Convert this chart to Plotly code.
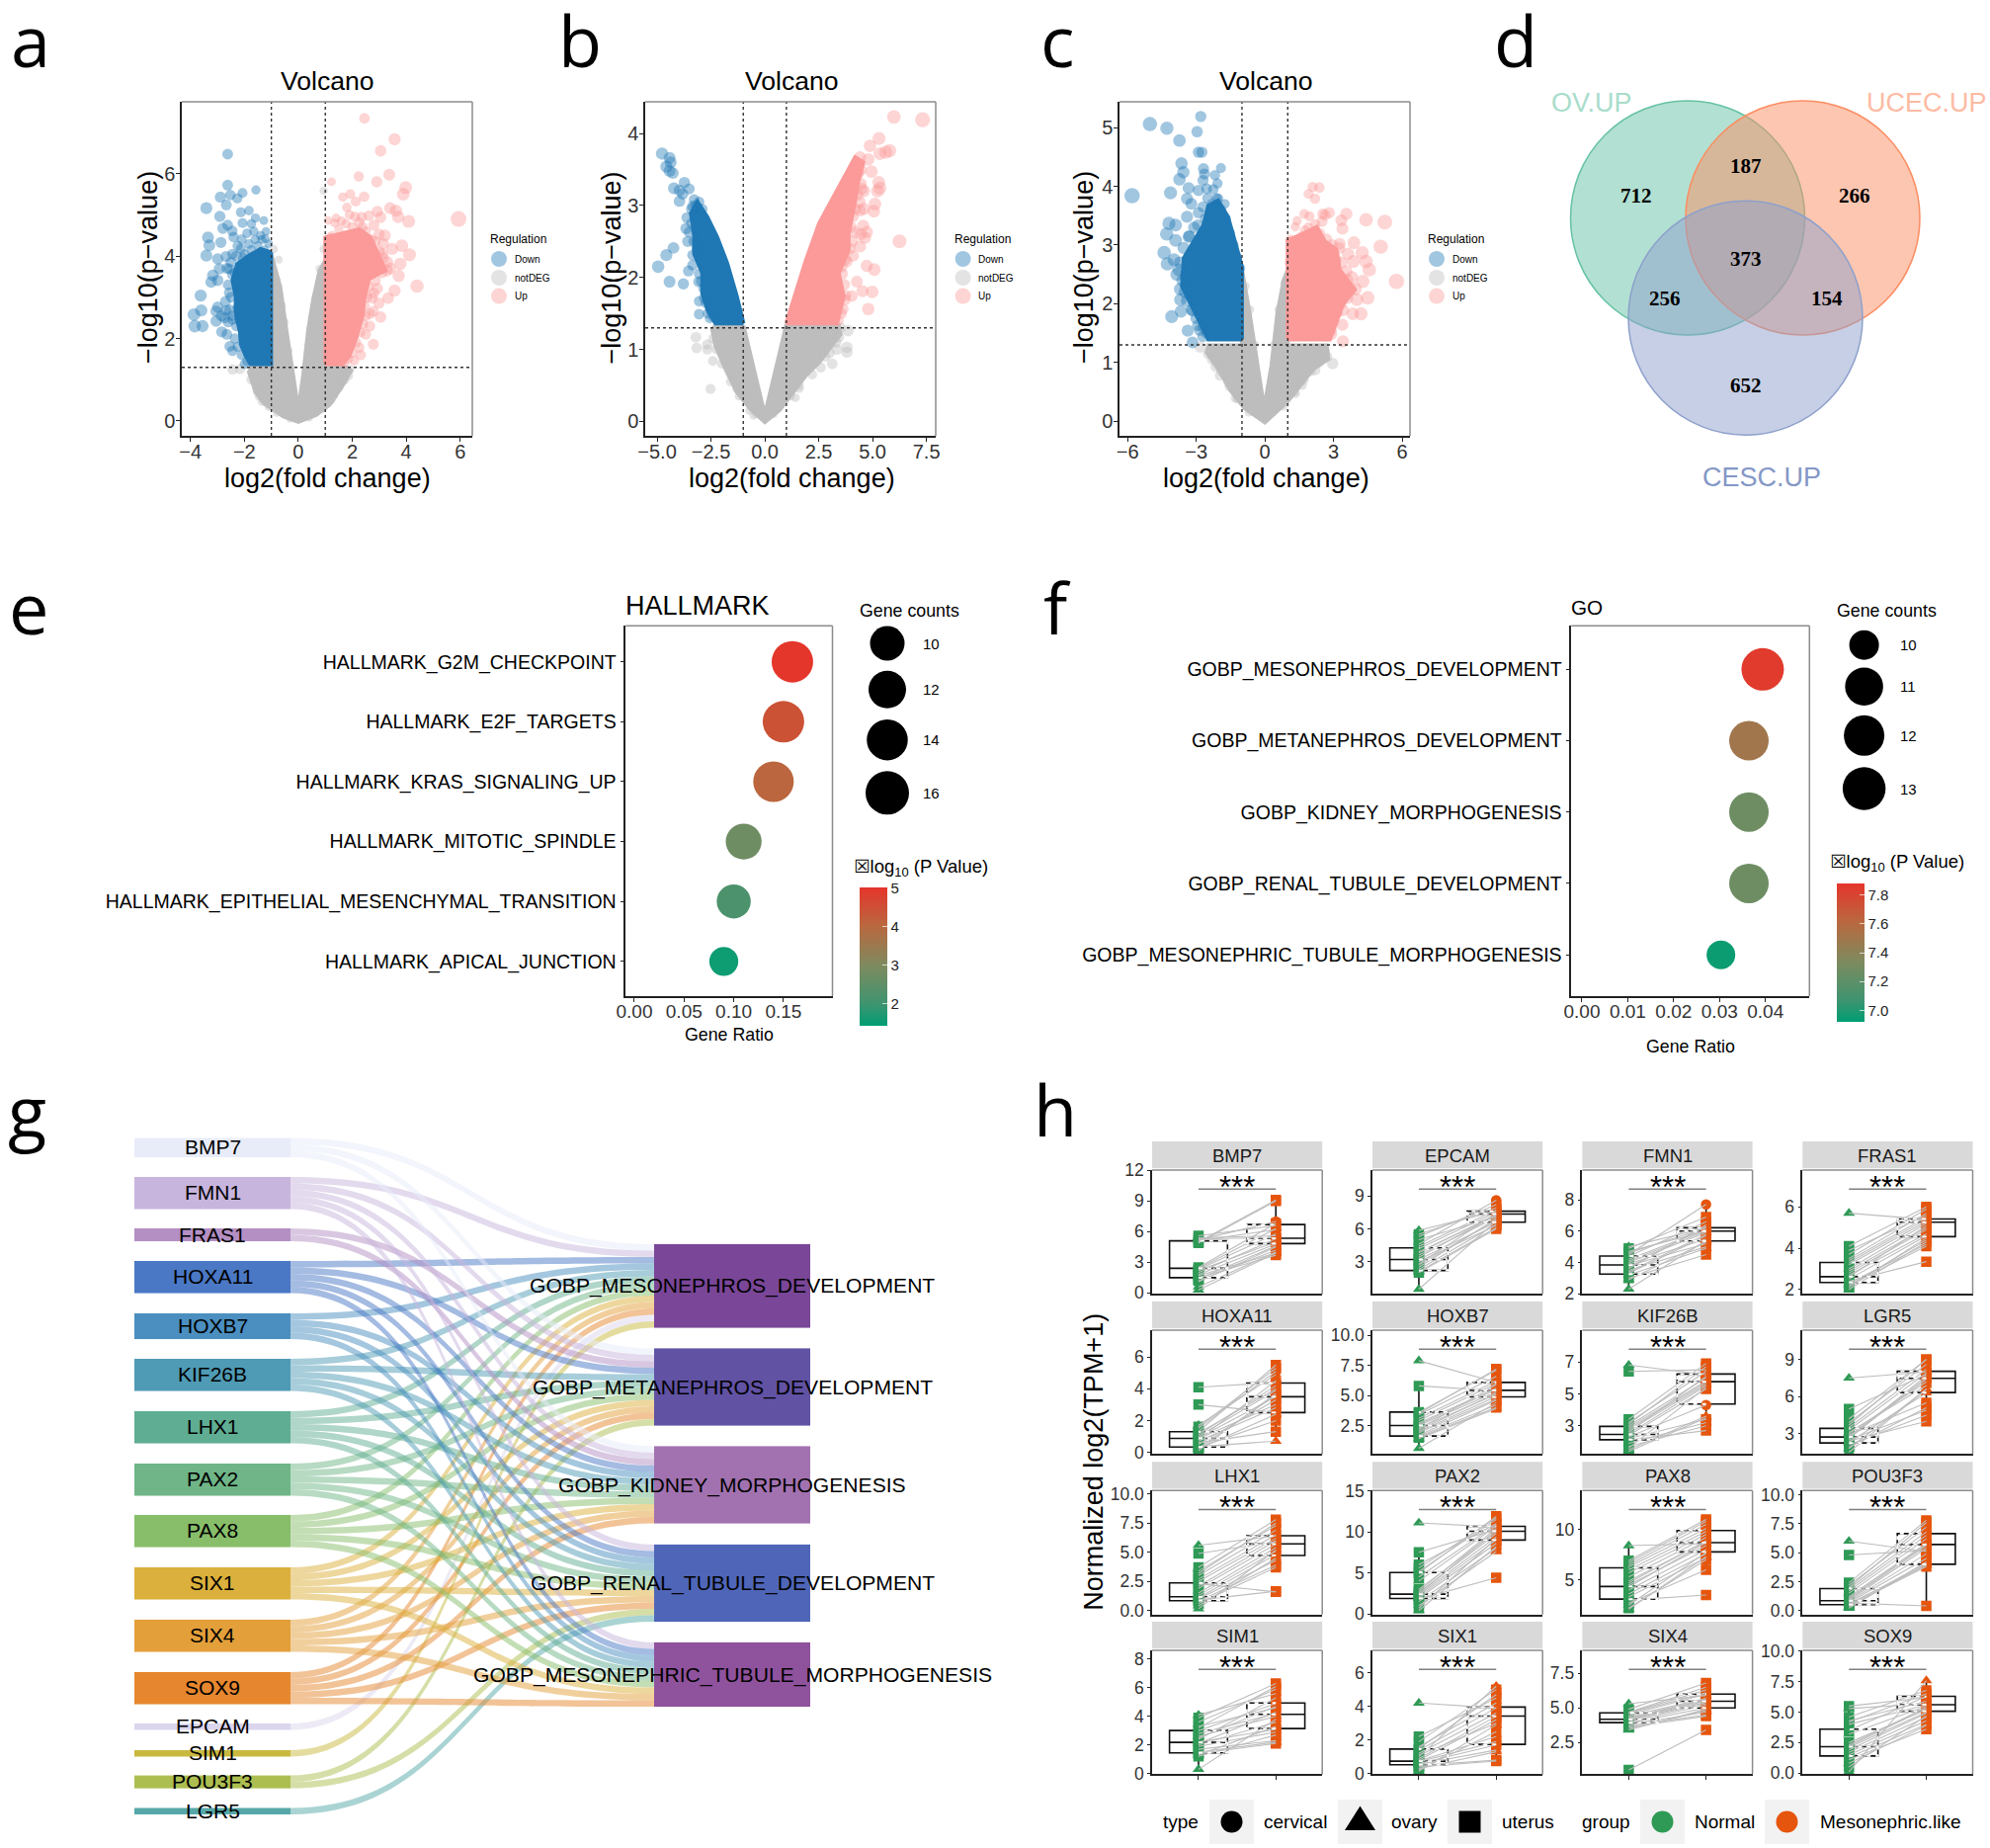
import plotly.graph_objects as go

W, H = 2014, 1870

# ---------------------------------------------------------------- panel a data
# The solid central masses of the volcano plots are read as outlines (*_MASS);
# the points around and away from them are read one by one.
A_DOWN = [(-2.62,6.47),(-2.62,5.72),(-1.57,5.60),(-2.07,5.53),(-2.89,5.43),(-2.52,5.48),(-2.26,5.40),(-2.67,5.24),(-3.41,5.16),(-2.13,5.06),(-1.83,5.10),(-2.91,4.96),(-1.59,4.92),(-1.28,4.86),(-1.74,4.78),(-2.07,4.80),(-2.80,4.67),(-2.62,4.75),(-2.45,4.61),(-2.40,4.46),(-3.35,4.45),(-3.30,4.26),(-2.87,4.33),(-1.83,4.29),(-1.22,4.42),(-2.13,4.17),(-3.41,4.01),(-2.99,3.93),(-2.68,3.99),(-2.44,4.05),(-2.93,3.69),(-2.56,3.69),(-3.17,3.53),(-2.99,3.41),(-3.23,3.37),(-3.62,3.04),(-2.56,3.11),(-3.60,2.68),(-3.87,2.58),(-2.99,2.76),(-3.05,2.66),(-2.68,2.68),(-3.05,2.42),(-2.74,2.50),(-2.44,2.46),(-3.84,2.30),(-3.55,2.30),(-2.84,2.16),(-2.65,2.10),(-2.54,1.81),(-2.44,1.70),(-1.99,1.38),
 (-1.2,4.6),(-1.4,4.5),(-1.6,4.4),(-1.9,4.55),(-2.1,4.4),(-2.25,4.25),(-1.5,4.25),(-1.25,4.15),(-1.1,4.3),(-1.75,4.15),(-2.0,4.05),(-2.3,4.0),(-2.5,3.85),(-2.65,3.7),(-2.45,3.55),(-2.6,3.3),(-2.5,3.0),(-2.7,2.9),(-2.55,2.7),(-2.45,2.55),(-2.85,2.55),(-2.6,2.4),(-2.3,2.3),(-2.35,2.0),(-2.25,1.8),(-2.1,1.6),(-1.9,1.45),(-2.2,3.3),(-2.35,3.6),(-2.05,3.95),(-2.25,2.75),(-2.2,2.45),(-1.8,1.7),(-1.35,4.4),(-1.65,4.6),(-1.15,4.05)]
A_DOWN_MASS = [(-1.01,4.09),(-1.40,4.17),(-1.83,4.01),(-2.26,3.81),(-2.44,3.41),(-2.32,3.02),(-2.32,2.62),(-2.16,2.14),(-2.13,1.86),(-1.95,1.58),(-1.77,1.38),(-1.01,1.38)]
A_UP = [(2.45,7.34),(3.57,6.83),(3.05,6.55),(2.24,5.93),(1.23,5.80),(2.91,5.80),(3.37,5.97),(3.98,5.66),(3.89,5.50),(1.93,5.50),(1.65,5.43),(2.44,5.44),(2.13,5.32),(1.80,5.18),(3.40,5.16),(3.62,5.10),(2.93,5.08),(2.62,4.98),(3.05,4.94),(3.70,4.95),(4.09,4.84),(5.94,4.90),(1.40,4.92),(1.10,4.86),(2.26,4.81),(1.77,4.78),(2.38,4.70),(2.99,4.53),(3.21,4.50),(1.16,4.46),(3.84,4.25),(3.48,4.17),(4.12,4.03),(3.11,4.05),(3.78,3.81),(3.29,3.65),(3.72,3.52),(4.40,3.27),(3.57,3.16),(2.93,3.21),(2.74,2.98),(3.33,2.98),(2.99,2.86),(2.78,2.66),(3.05,2.52),(2.65,2.30),(2.50,2.10),(2.78,1.86),(2.26,1.78),(2.32,1.60),(2.07,1.46),
 (1.1,4.4),(1.25,4.5),(1.5,4.65),(1.75,4.5),(2.0,4.7),(2.25,4.55),(2.5,4.6),(2.7,4.4),(2.55,4.2),(2.85,4.35),(3.0,4.1),(3.15,3.95),(3.3,3.85),(3.4,3.7),(3.1,3.6),(2.95,3.75),(2.85,3.4),(2.7,3.55),(2.6,3.25),(2.55,3.0),(2.45,2.8),(2.5,2.55),(2.4,2.35),(2.3,2.15),(2.15,1.9),(2.0,1.65),(1.85,1.5),(1.7,1.4),(1.35,4.8),(1.6,4.85),(2.1,4.95),(1.9,5.0),(2.35,4.95),(2.8,4.75),(3.15,4.3),(2.65,2.6),(2.8,3.1)]
A_UP_MASS = [(1.0,1.38),(1.0,4.45),(1.52,4.53),(2.26,4.65),(2.68,4.45),(2.99,3.97),(3.23,3.65),(2.62,3.45),(2.44,2.94),(2.38,2.54),(2.13,1.98),(1.89,1.58),(1.65,1.38)]
A_NOT = [(0.94,5.58),(0.94,4.17),(-0.91,4.17),(-0.73,3.91),(-2.44,1.25),(-2.16,1.26),(-1.52,0.71),(-1.34,0.47),(1.22,0.51),(1.71,0.99),(0.79,3.69),
 (-0.95,3.7),(-0.8,3.4),(-0.6,2.8),(-0.5,2.4),(-0.35,1.7),(0.35,1.8),(0.5,2.5),(0.65,3.0),(0.85,3.4),(0.95,3.7),(-1.6,1.2),(-1.75,1.0),(-1.45,0.6),(-1.1,0.35),(1.85,1.1),(1.5,0.8),(1.3,0.6),(0.9,0.3),(1.9,1.25),(-0.8,0.2),(-0.3,0.05),(0.4,0.08)]
A_NOT_MASS = [(-1.01,4.05),(-0.67,3.25),(-0.43,2.14),(-0.18,1.11),(0,0.27),(0.18,1.11),(0.37,2.22),(0.55,2.94),(0.79,3.65),(1.0,3.89),(1.0,1.34),(1.77,1.30),(1.95,1.22),(1.65,0.87),(1.16,0.39),(0.67,0.15),(0,-0.02),(-0.55,0.11),(-1.28,0.43),(-1.59,0.71),(-1.83,1.19),(-1.71,1.34),(-1.01,1.34)]

# ---------------------------------------------------------------- panel b data
B_DOWN = [(-4.77,3.72),(-4.42,3.66),(-4.37,3.60),(-4.57,3.54),(-4.42,3.48),(-4.27,3.45),(-3.73,3.32),(-4.22,3.24),(-3.51,3.23),(-3.96,3.21),(-3.81,3.16),(-3.96,3.06),(-3.28,3.08),(-3.35,2.99),(-3.61,2.83),(-3.66,2.68),(-3.51,2.63),(-3.58,2.50),(-4.24,2.41),(-4.57,2.31),(-4.95,2.15),(-3.35,2.31),(-3.35,2.17),(-3.54,2.09),(-4.42,1.94),(-3.78,1.91),(-3.08,1.94),(-2.82,1.72),(-3.05,1.67),(-3.05,1.49),(-2.52,1.53),(-2.55,1.43),
 (-3.4,2.75),(-3.25,2.85),(-3.3,2.5),(-3.2,2.65),(-3.15,2.4),(-3.0,2.25),(-3.05,2.05),(-2.95,1.95),(-2.85,1.85),(-2.75,1.65),(-2.65,1.5),(-2.4,1.45),(-3.1,2.95),(-3.2,3.0),(-3.05,3.05),(-2.9,2.95),(-3.4,2.95),(-3.0,2.55),(-2.7,1.95),(-2.45,1.6)]
B_DOWN_MASS = [(-0.99,1.36),(-1.30,1.74),(-1.75,2.20),(-2.21,2.56),(-2.67,2.84),(-3.13,3.05),(-3.43,2.89),(-3.28,2.61),(-3.28,2.33),(-2.90,2.06),(-2.90,1.78),(-2.67,1.56),(-2.29,1.36)]
B_UP = [(7.32,4.19),(5.99,4.23),(5.30,3.93),(4.88,3.83),(5.79,3.76),(5.61,3.74),(5.34,3.72),(4.42,3.67),(4.95,3.47),(4.80,3.64),(5.29,3.32),(5.34,3.24),(5.23,3.20),(4.50,3.23),(5.11,3.02),(5.06,2.92),(4.42,2.93),(6.25,2.50),(4.57,2.72),(4.73,2.63),(4.19,2.63),(4.42,2.43),(4.73,2.16),(5.08,2.11),(4.27,1.94),(4.53,1.81),(4.98,1.80),(4.04,1.74),(4.80,1.56),(3.63,1.56),(3.73,1.69),(3.58,2.15),(3.81,2.22),
 (4.25,3.55),(4.35,3.45),(4.45,3.3),(4.6,3.2),(4.3,3.15),(4.4,3.05),(4.2,2.95),(4.1,2.85),(4.0,2.7),(4.05,2.5),(3.95,2.4),(3.75,2.25),(3.6,2.05),(3.7,1.9),(3.75,1.75),(3.55,1.5),(3.4,1.4),(4.0,3.4),(3.85,3.3),(3.7,3.1),(3.8,3.0),(4.6,2.95),(4.65,2.55),(4.45,2.6),(4.1,2.3),(4.45,3.5)]
B_UP_MASS = [(0.99,1.36),(1.37,1.74),(1.91,2.24),(2.52,2.75),(3.28,3.16),(4.19,3.67),(4.57,3.60),(4.34,3.34),(4.19,3.07),(3.89,2.61),(3.89,2.38),(3.43,2.06),(3.66,1.74),(3.35,1.36)]
B_NOT = [(-3.20,1.17),(-3.16,1.02),(-2.67,1.07),(-2.67,1.0),(-2.41,0.84),(-2.52,0.45),(3.86,1.26),(3.81,1.03),(3.81,0.96),(3.43,1.17),(3.35,1.0),(3.13,0.8),(1.42,0.33),(1.6,0.46),(-1.30,0.45),(-0.72,0.15),(-0.53,0.08),
 (3.3,1.1),(3.0,0.95),(2.6,0.75),(2.2,0.65),(1.6,0.5),(1.2,0.35),(-1.2,0.35),(-1.6,0.55),(-2.0,0.8),(-2.25,1.0),(-2.4,1.15),(3.5,1.3),(2.8,0.9),(-0.4,0.1),(0.4,0.1)]
B_NOT_MASS = [(-0.99,1.33),(0,0.09),(0.99,1.33),(3.43,1.33),(3.51,1.21),(3.05,1.03),(2.52,0.82),(1.91,0.64),(1.30,0.41),(0.69,0.16),(0,-0.01),(-0.69,0.18),(-1.30,0.41),(-1.83,0.73),(-2.29,1.05),(-2.44,1.28),(-2.29,1.33)]

# ---------------------------------------------------------------- panel c data
C_DOWN = [(-2.80,5.19),(-5.02,5.06),(-4.28,4.99),(-2.96,4.93),(-3.73,4.78),(-2.90,4.58),(-2.75,4.58),(-3.64,4.39),(-3.56,4.24),(-2.68,4.30),(-1.92,4.31),(-2.64,4.21),(-3.73,4.12),(-2.18,4.19),(-2.70,4.10),(-2.07,4.05),(-5.80,3.84),(-4.12,3.89),(-3.33,3.97),(-2.54,3.96),(-2.90,3.93),(-3.40,3.79),(-3.21,3.70),(-2.04,3.79),(-4.19,3.37),(-3.90,3.34),(-3.40,3.48),(-2.93,3.34),(-4.29,3.19),(-3.90,3.08),(-3.33,3.14),(-4.40,2.87),(-4.26,2.68),(-3.97,2.75),(-3.76,2.58),(-3.69,2.07),(-4.07,1.78),(-3.66,1.87),(-3.16,1.88),(-3.37,1.54),(-2.93,1.63),(-3.16,1.34),(-2.71,1.44),
 (-2.1,3.8),(-2.3,3.7),(-2.5,3.8),(-2.7,3.65),(-2.9,3.55),(-1.9,3.6),(-1.7,3.45),(-1.5,3.2),(-1.35,3.0),(-1.2,2.8),(-1.05,2.6),(-3.1,3.3),(-3.3,3.15),(-3.55,2.95),(-3.7,2.7),(-3.85,2.5),(-3.7,2.25),(-3.5,2.2),(-3.45,2.45),(-3.4,2.05),(-3.2,1.9),(-3.0,1.75),(-2.85,1.55),(-2.7,1.6),(-2.55,1.5),(-3.6,2.4),(-3.25,2.8),(-2.6,3.45),(-2.25,3.95),(-1.75,3.7)]
C_DOWN_MASS = [(-1.0,1.39),(-1.0,2.63),(-1.32,3.08),(-1.61,3.48),(-2.04,3.76),(-2.47,3.67),(-2.68,3.34),(-3.11,3.06),(-3.54,2.78),(-3.62,2.30),(-3.26,2.02),(-2.90,1.74),(-2.47,1.39)]
C_UP = [(2.38,3.98),(2.09,3.99),(1.91,3.87),(2.19,3.79),(1.72,3.53),(1.95,3.49),(2.53,3.53),(2.81,3.55),(2.63,3.51),(3.56,3.53),(4.42,3.43),(5.24,3.39),(3.34,3.42),(3.39,3.28),(1.41,3.41),(1.33,3.31),(5.06,2.97),(3.89,3.04),(3.27,3.02),(3.63,2.85),(4.25,2.87),(4.56,2.58),(4.42,2.72),(3.87,2.72),(5.75,2.38),(3.56,2.55),(4.28,2.38),(4.49,2.10),(4.02,2.07),(4.20,1.83),(3.84,1.83),(3.41,1.89),(3.39,1.64),(2.91,1.48),(3.41,1.36),
 (1.1,3.1),(1.3,3.0),(1.6,3.15),(1.9,3.3),(2.2,3.35),(2.4,3.2),(2.7,3.1),(2.95,3.0),(3.25,2.95),(3.35,2.7),(3.1,2.75),(3.6,2.4),(3.75,2.25),(3.95,2.25),(3.6,2.1),(3.3,2.0),(3.15,1.85),(3.0,1.7),(2.9,1.55),(2.65,1.45),(1.05,2.7),(3.8,2.45),(3.45,2.25),(3.2,2.4),(1.75,3.25),(2.5,3.4)]
C_UP_MASS = [(1.0,1.39),(1.0,3.08),(1.55,3.17),(2.27,3.31),(2.63,3.06),(3.13,2.92),(3.27,2.58),(3.92,2.24),(3.41,1.99),(3.13,1.71),(2.84,1.39)]
C_NOT = [(2.96,0.98),(2.2,0.87),(1.62,0.61),(1.33,0.47),(-2.47,1.15),(-2.15,0.93),(-1.97,0.78),(-1.54,0.58),(-1.29,0.39),(-2.83,1.26),
 (2.6,1.2),(2.35,1.0),(2.0,0.85),(1.7,0.7),(1.3,0.5),(0.8,0.25),(-0.7,0.15),(-1.2,0.38),(-1.6,0.65),(-1.9,0.85),(-2.3,1.05),(-0.85,2.3),(-0.65,1.9),(-0.45,1.3),(0.4,1.3),(0.6,1.9),(0.85,2.35),(2.7,1.1)]
C_NOT_MASS = [(-1.0,2.58),(-0.67,1.85),(-0.32,0.95),(-0.03,0.22),(0.29,0.95),(0.55,1.85),(0.83,2.41),(1.0,2.58),(1.0,1.29),(2.70,1.29),(2.77,1.06),(2.12,0.89),(1.55,0.61),(0.98,0.33),(0,-0.02),(-0.89,0.22),(-1.46,0.50),(-2.04,0.89),(-2.54,1.17),(-2.47,1.29),(-1.0,1.29)]

# ---------------------------------------------------------------- panel d data
VENN_SETS = ["OV.UP", "UCEC.UP", "CESC.UP"]
VENN_COUNTS = ["712", "187", "266", "373", "256", "154", "652"]

# ---------------------------------------------------------------- panels e, f data
E_TERMS = ["HALLMARK_APICAL_JUNCTION", "HALLMARK_EPITHELIAL_MESENCHYMAL_TRANSITION", "HALLMARK_MITOTIC_SPINDLE", "HALLMARK_KRAS_SIGNALING_UP", "HALLMARK_E2F_TARGETS", "HALLMARK_G2M_CHECKPOINT"]
E_RATIO = [0.09, 0.10, 0.11, 0.14, 0.15, 0.159]
E_LOGP = [1.55, 2.2, 2.75, 4.05, 4.45, 5.0]
E_DIAM = [29.3, 34.4, 36.3, 41, 42, 42]
F_TERMS = ["GOBP_MESONEPHRIC_TUBULE_MORPHOGENESIS", "GOBP_RENAL_TUBULE_DEVELOPMENT", "GOBP_KIDNEY_MORPHOGENESIS", "GOBP_METANEPHROS_DEVELOPMENT", "GOBP_MESONEPHROS_DEVELOPMENT"]
F_RATIO = [0.0303, 0.0364, 0.0364, 0.0364, 0.0394]
F_LOGP = [6.95, 7.27, 7.27, 7.5, 7.85]
F_DIAM = [29, 40, 40, 40, 43]

# ---------------------------------------------------------------- panel g data
SANKEY_GENES = ["BMP7","FMN1","FRAS1","HOXA11","HOXB7","KIF26B","LHX1","PAX2","PAX8","SIX1","SIX4","SOX9","EPCAM","SIM1","POU3F3","LGR5"]
SANKEY_GENE_COLORS = ["#E8ECF9","#C8B5DD","#B48FC4","#4A78C5","#4A8FC0","#4F9BB5","#5FAD93","#6FB587","#88BE6A","#DBB03C","#E39F3A","#E6872F","#DBD5EE","#C9B93F","#ADBE50","#56A8A8"]
SANKEY_TERMS = ["GOBP_MESONEPHROS_DEVELOPMENT","GOBP_METANEPHROS_DEVELOPMENT","GOBP_KIDNEY_MORPHOGENESIS","GOBP_RENAL_TUBULE_DEVELOPMENT","GOBP_MESONEPHRIC_TUBULE_MORPHOGENESIS"]
SANKEY_TERM_COLORS = ["#7A4698","#6152A3","#A272B0","#4F66B8","#8F529D"]
TERM1_GENES = ["BMP7","FMN1","HOXA11","HOXB7","KIF26B","LHX1","PAX2","PAX8","SIX1","SIX4","SOX9","EPCAM","SIM1"]
TERM2_GENES = ["BMP7","FMN1","FRAS1","HOXA11","KIF26B","LHX1","PAX2","PAX8","SIX1","SIX4","SOX9","POU3F3"]
TERM3_GENES = ["BMP7","FMN1","FRAS1","HOXA11","HOXB7","KIF26B","LHX1","PAX2","PAX8","SIX1","SIX4","SOX9"]
TERM4_GENES = ["FMN1","HOXA11","HOXB7","KIF26B","LHX1","PAX2","PAX8","SIX1","SIX4","SOX9","POU3F3","LGR5"]
TERM5_GENES = ["FMN1","HOXA11","HOXB7","KIF26B","LHX1","PAX2","PAX8","SIX1","SIX4","SOX9"]

# ---------------------------------------------------------------- panel h data
SAMPLE_TYPE = ["o","u","u","o","c","u","u","o","u","u","c","u","u","o","u","u","u","o","u","u"]
BMP7_N = [5.4,5.0,5.3,0.3,5.2,5.6,4.9,2.4,1.5,2.2,5.1,1.2,1.8,0.6,2.5,1.4,2.0,1.1,1.7,2.3]
BMP7_M = [5.6,9.1,5.4,3.9,7.0,6.6,9.0,6.3,3.7,5.0,6.2,4.2,4.8,4.0,6.8,4.6,5.3,4.5,3.9,5.8]
EPCAM_N = [5.85,5.5,5.0,0.5,4.6,4.2,3.9,3.6,3.2,3.0,2.8,2.5,2.3,2.1,4.4,3.4,2.0,3.8,5.3,2.7]
EPCAM_M = [7.6,7.9,7.1,6.7,8.6,7.5,7.2,7.0,6.6,6.3,7.4,6.9,6.4,6.1,7.7,7.3,6.0,7.3,8.2,6.8]
FMN1_N = [5.0,4.9,4.7,2.3,4.5,4.4,4.2,4.0,3.9,3.8,3.7,3.5,3.4,3.2,4.6,3.0,3.3,2.9,4.1,3.6]
FMN1_M = [6.2,6.9,6.0,5.4,7.7,6.6,6.1,5.9,5.5,5.2,6.3,5.0,5.8,4.9,6.2,4.5,5.7,5.3,6.0,6.4]
FRAS1_N = [5.7,4.1,3.9,2.0,3.5,3.3,3.2,3.0,2.8,2.7,2.6,2.5,2.4,2.3,3.4,2.2,2.1,2.2,3.7,2.9]
FRAS1_M = [5.4,6.0,5.6,4.3,5.7,5.4,5.3,5.2,4.9,4.7,5.1,4.6,3.35,4.2,5.5,4.1,4.5,4.4,5.9,5.0]
HOXA11_N = [1.7,4.1,3.0,0.35,1.5,1.3,1.1,1.0,0.9,0.85,0.8,0.7,0.6,0.5,1.6,0.3,0.25,0.2,1.2,0.1]
HOXA11_M = [4.9,4.4,2.5,0.7,5.1,5.5,4.2,3.9,3.5,3.0,4.5,2.8,1.3,3.3,5.3,2.0,3.6,2.4,4.0,3.7]
HOXB7_N = [7.9,5.8,3.6,0.6,3.4,3.1,2.9,2.7,2.5,2.3,2.2,2.0,1.9,1.7,3.5,1.6,1.5,1.4,2.6,2.1]
HOXB7_M = [6.1,5.4,7.1,4.4,6.6,6.2,6.0,5.6,5.3,5.1,5.9,4.9,4.7,4.6,7.2,4.2,4.0,3.9,5.5,5.2]
KIF26B_N = [6.8,6.4,3.4,1.4,3.2,3.0,2.9,2.7,2.5,2.4,2.3,2.2,2.1,1.9,3.1,1.7,1.6,1.5,2.6,2.8]
KIF26B_M = [6.2,6.5,6.9,3.5,6.4,6.0,5.8,5.6,5.5,5.3,4.3,3.4,2.7,3.2,6.7,3.0,5.4,3.6,6.1,5.7]
LGR5_N = [7.5,5.0,4.2,1.5,3.9,3.5,3.3,3.1,2.9,2.8,2.7,2.5,2.4,2.3,3.7,2.1,1.9,1.8,2.6,3.0]
LGR5_M = [8.0,7.8,9.0,6.6,8.6,8.2,7.9,6.9,5.5,7.5,7.4,4.9,4.0,6.3,9.0,4.5,5.1,6.6,7.7,7.2]
LHX1_N = [5.6,4.9,3.7,0.15,3.4,3.0,2.7,2.5,2.3,1.9,1.5,1.3,1.1,1.0,3.2,0.8,0.6,0.4,2.1,0.9]
LHX1_M = [6.4,5.9,7.8,5.2,7.3,6.9,6.5,6.2,1.6,5.7,5.4,5.1,4.8,4.3,7.5,3.9,3.7,4.5,6.0,1.65]
PAX2_N = [11.1,7.5,6.0,0.4,5.2,5.0,4.5,4.0,3.0,2.6,2.4,2.3,2.1,1.9,5.6,1.8,1.5,1.0,2.8,0.7]
PAX2_M = [10.6,10.3,11.0,8.2,11.5,11.9,10.9,10.7,10.0,9.8,10.2,9.4,9.0,8.6,11.7,4.4,8.0,7.6,10.4,9.2]
PAX8_N = [8.4,6.9,6.5,2.1,6.3,6.0,5.7,5.3,4.9,4.5,4.3,4.0,3.6,3.3,6.7,3.0,2.7,2.5,4.7,2.2]
PAX8_M = [8.6,11.0,10.5,7.3,10.1,9.8,9.5,9.2,8.8,8.4,8.7,8.0,7.6,7.2,10.8,3.5,6.0,7.7,8.9,7.0]
POU3F3_N = [6.0,4.8,2.4,0.2,2.2,1.9,1.7,1.5,1.2,1.0,0.9,0.8,0.7,0.6,2.0,0.5,0.45,0.3,1.1,0.65]
POU3F3_M = [5.1,5.2,7.8,4.2,7.2,6.8,6.5,6.2,5.8,5.6,5.4,4.9,4.5,3.9,7.6,4.1,3.8,4.0,5.7,0.4]
SIM1_N = [4.1,3.9,3.6,0.3,3.3,3.0,2.8,2.6,2.4,2.2,2.1,1.9,1.7,1.5,3.2,1.4,1.2,1.3,2.5,2.0]
SIM1_M = [5.6,6.3,5.9,3.8,4.6,4.9,4.2,4.0,5.3,3.1,4.3,2.9,2.3,2.2,6.1,2.1,2.7,3.3,4.7,3.6]
SIX1_N = [4.2,2.2,1.9,0.15,1.6,1.4,1.2,1.0,0.9,0.8,0.75,0.7,0.6,0.55,1.5,0.5,0.4,0.3,1.1,0.2]
SIX1_M = [3.9,4.5,5.0,2.9,4.2,3.9,3.6,5.2,3.4,3.2,2.2,1.9,1.7,1.4,4.7,0.8,0.75,1.3,3.0,2.5]
SIX4_N = [5.3,4.9,4.7,3.4,4.6,4.5,4.4,4.3,4.2,4.15,4.1,4.0,3.9,3.8,4.65,3.7,3.6,3.5,4.25,0.5]
SIX4_M = [5.9,6.8,6.5,4.9,6.1,6.0,5.7,5.6,5.5,5.4,5.3,5.2,5.0,4.7,6.3,4.5,4.4,4.8,5.6,3.4]
SOX9_N = [5.3,5.5,4.6,0.1,4.3,4.0,3.5,3.2,2.5,2.3,2.1,1.9,1.7,1.5,4.2,1.3,1.1,0.8,2.2,0.5]
SOX9_M = [5.7,6.2,6.8,7.6,5.9,5.6,6.3,5.5,5.2,5.4,5.0,4.9,4.6,4.3,6.5,4.0,3.6,3.9,5.3,4.7]
# box statistics: lower fence, q1, median, q3, upper fence
BMP7_BOX_N = [0.3,1.5,2.42,5.1,5.6];  BMP7_BOX_M = [3.7,4.84,5.35,6.7,9.1]
EPCAM_BOX_N = [0.5,2.2,3.2,4.26,5.85]; EPCAM_BOX_M = [6.0,6.6,7.35,7.6,8.6]
FMN1_BOX_N = [2.3,3.26,3.84,4.41,5.0]; FMN1_BOX_M = [4.5,5.37,6.0,6.21,7.7]
FRAS1_BOX_N = [2.0,2.34,2.62,3.31,4.1]; FRAS1_BOX_M = [4.0,4.56,5.26,5.42,6.0]
HOXA11_BOX_N = [0.1,0.33,0.87,1.29,1.7]; HOXA11_BOX_M = [0.7,2.5,3.5,4.36,5.5]
HOXB7_BOX_N = [0.6,1.62,2.5,3.62,5.8]; HOXB7_BOX_M = [3.9,4.88,5.43,6.09,7.2]
KIF26B_BOX_N = [1.4,2.13,2.46,2.96,3.4]; KIF26B_BOX_M = [2.7,4.36,5.76,6.24,6.9]
LGR5_BOX_N = [1.5,2.25,2.73,3.43,5.0]; LGR5_BOX_M = [4.0,6.33,7.48,8.04,9.0]
LHX1_BOX_N = [0.15,0.85,1.18,2.37,3.7]; LHX1_BOX_M = [3.7,4.73,5.72,6.42,7.8]
PAX2_BOX_N = [0.4,1.88,2.4,5.04,7.5]; PAX2_BOX_M = [7.6,9.0,10.08,10.68,11.9]
PAX8_BOX_N = [2.1,3.1,4.35,6.2,8.4]; PAX8_BOX_M = [6.0,7.78,8.7,9.9,11.0]
POU3F3_BOX_N = [0.2,0.51,0.85,1.9,2.4]; POU3F3_BOX_M = [0.4,4.0,5.71,6.65,7.8]
SIM1_BOX_N = [0.3,1.45,2.18,3.01,4.1]; SIM1_BOX_M = [2.1,3.15,4.14,4.94,6.3]
SIX1_BOX_N = [0.15,0.53,0.74,1.46,2.2]; SIX1_BOX_M = [0.75,1.74,3.42,3.96,5.2]
SIX4_BOX_N = [3.4,3.93,4.17,4.64,5.3]; SIX4_BOX_M = [4.4,5.0,5.48,6.0,6.8]
SOX9_BOX_N = [0.1,1.4,2.16,3.6,5.5]; SOX9_BOX_M = [3.6,5.08,5.62,6.3,7.6]

FACETS = [
 ("BMP7",BMP7_N,BMP7_M,BMP7_BOX_N,BMP7_BOX_M),("EPCAM",EPCAM_N,EPCAM_M,EPCAM_BOX_N,EPCAM_BOX_M),("FMN1",FMN1_N,FMN1_M,FMN1_BOX_N,FMN1_BOX_M),("FRAS1",FRAS1_N,FRAS1_M,FRAS1_BOX_N,FRAS1_BOX_M),
 ("HOXA11",HOXA11_N,HOXA11_M,HOXA11_BOX_N,HOXA11_BOX_M),("HOXB7",HOXB7_N,HOXB7_M,HOXB7_BOX_N,HOXB7_BOX_M),("KIF26B",KIF26B_N,KIF26B_M,KIF26B_BOX_N,KIF26B_BOX_M),("LGR5",LGR5_N,LGR5_M,LGR5_BOX_N,LGR5_BOX_M),
 ("LHX1",LHX1_N,LHX1_M,LHX1_BOX_N,LHX1_BOX_M),("PAX2",PAX2_N,PAX2_M,PAX2_BOX_N,PAX2_BOX_M),("PAX8",PAX8_N,PAX8_M,PAX8_BOX_N,PAX8_BOX_M),("POU3F3",POU3F3_N,POU3F3_M,POU3F3_BOX_N,POU3F3_BOX_M),
 ("SIM1",SIM1_N,SIM1_M,SIM1_BOX_N,SIM1_BOX_M),("SIX1",SIX1_N,SIX1_M,SIX1_BOX_N,SIX1_BOX_M),("SIX4",SIX4_N,SIX4_M,SIX4_BOX_N,SIX4_BOX_M),("SOX9",SOX9_N,SOX9_M,SOX9_BOX_N,SOX9_BOX_M),
]
# axis setup of each facet: y range, ticks, tick format
FACET_AXES = [
 ([-0.1,12.03],[0,3,6,9,12],""),([0.06,11.35],[3,6,9],""),([1.99,9.89],[2,4,6,8],""),([1.78,7.79],[2,4,6],""),
 ([-0.12,7.7],[0,2,4,6],""),([0.12,10.44],[2.5,5,7.5,10],".1f"),([1.23,8.98],[3,5,7],""),([1.35,11.37],[3,6,9],""),
 ([-0.34,10.3],[0,2.5,5,7.5,10],".1f"),([-0.08,15.04],[0,5,10,15],""),([1.57,13.86],[5,10],""),([-0.34,10.37],[0,2.5,5,7.5,10],".1f"),
 ([-0.05,8.62],[0,2,4,6,8],""),([-0.04,7.33],[0,2,4,6],""),([0.19,9.17],[2.5,5,7.5],".1f"),([-0.1,10.08],[0,2.5,5,7.5,10],".1f"),
]

# ---------------------------------------------------------------- colours, fonts
BLUE, GREY, PINK = "#1F78B4", "#BDBDBD", "#FB9A99"
GREEN, ORANGE = "#2E9A55", "#E6550D"
SANS = "Liberation Sans, Arial, DejaVu Sans"
BORDER = "#8C8C8C"
AX = "#222222"
TICK = "#333333"

fig = go.Figure()
shapes, annos, axes = [], [], {}
px = lambda x: x / W
py = lambda y: 1 - y / H

def rgba(hexc, a):
    return "rgba(%d,%d,%d,%s)" % (int(hexc[1:3],16), int(hexc[3:5],16), int(hexc[5:7],16), a)

def text(x, y, s, size, anchor="center", color="black", family=SANS, angle=0):
    annos.append(dict(x=px(x), y=py(y), xref="paper", yref="paper", text=s, showarrow=False,
                      xanchor=anchor, yanchor="middle", textangle=angle,
                      font=dict(size=size, color=color, family=family), borderpad=0, borderwidth=0))

def rect(x0, y0, x1, y1, fill="rgba(0,0,0,0)", layer="above"):
    shapes.append(dict(type="rect", xref="paper", yref="paper", x0=px(x0), x1=px(x1), y0=py(y0), y1=py(y1),
                       fillcolor=fill, line=dict(width=0), layer=layer))

def circle(cx, cy, d, fill, line=None, lw=1):
    shapes.append(dict(type="circle", xref="paper", yref="paper", x0=px(cx-d/2), x1=px(cx+d/2), y0=py(cy-d/2), y1=py(cy+d/2),
                       fillcolor=fill, line=dict(color=line or "rgba(0,0,0,0)", width=lw if line else 0)))

axis_count = [0]
def make_axes(box, xr, yr, xkw, ykw):
    """Creates an x/y axis pair placed at pixel box (left, top, right, bottom)."""
    axis_count[0] += 1
    n = axis_count[0]
    l, t, r, b = box
    sfx = "" if n == 1 else str(n)
    base = dict(showgrid=False, zeroline=False, showline=True, linecolor=AX, linewidth=1.5,
                ticks="outside", ticklen=4, tickwidth=1.3, tickcolor=AX, tickfont=dict(size=20, color=TICK, family=SANS), layer="above traces")
    xa = dict(base); xa.update(domain=[px(l), px(r)], range=xr, anchor="y"+sfx); xa.update(xkw)
    ya = dict(base); ya.update(domain=[py(b), py(t)], range=yr, anchor="x"+sfx); ya.update(ykw)
    axes["xaxis"+sfx] = xa
    axes["yaxis"+sfx] = ya
    shapes.append(dict(type="line", xref="paper", yref="paper", x0=px(l), x1=px(r), y0=py(t), y1=py(t), line=dict(color=BORDER, width=1.5)))
    shapes.append(dict(type="line", xref="paper", yref="paper", x0=px(r), x1=px(r), y0=py(t), y1=py(b), line=dict(color=BORDER, width=1.5)))
    return "x"+sfx, "y"+sfx

# ---------------------------------------------------------------- volcano panels
def volcano(box, xr, yr, xticks, yticks, fmt, down, down_mass, nots, not_mass, up, up_mass, s0, s1, cx, ylab_x, leg_x):
    xa, ya = make_axes(box, xr, yr, dict(tickvals=xticks, tickformat=fmt, ticklabelstandoff=-7),
                       dict(tickvals=yticks, ticklabelstandoff=-3))
    for pts, mass, col in ((nots, not_mass, GREY), (down, down_mass, BLUE), (up, up_mass, PINK)):
        mx = [p[0] for p in mass] + [mass[0][0]]
        my = [p[1] for p in mass] + [mass[0][1]]
        fig.add_trace(go.Scatter(x=mx, y=my, mode="lines", fill="toself", fillcolor=col,
                                 line=dict(color=col, width=4), xaxis=xa, yaxis=ya, showlegend=False, hoverinfo="skip"))
        fig.add_trace(go.Scatter(x=[p[0] for p in pts], y=[p[1] for p in pts], mode="markers",
                                 marker=dict(color=col, opacity=0.42, size=[s0 + s1*abs(p[0]) for p in pts], line=dict(width=0)),
                                 xaxis=xa, yaxis=ya, showlegend=False, hoverinfo="skip"))
    ymax, xmin, xmax = yr[1], xr[0], xr[1]
    fig.add_trace(go.Scatter(x=[-1, -1, None, 1, 1, None, xmin, xmax], y=[yr[0], ymax, None, yr[0], ymax, None, 1.3, 1.3], mode="lines",
                             line=dict(color="#333333", width=1.4, dash="dot"), xaxis=xa, yaxis=ya, showlegend=False, hoverinfo="skip"))
    text(cx, 82.5, "Volcano", 26.6)
    text(cx, 484, "log2(fold change)", 27)
    text(ylab_x, 271, "\u2212log10(p\u2212value)", 27, angle=-90)
    text(leg_x, 241.5, "Regulation", 12, anchor="left")
    for name, col, yy in (("Down", BLUE, 262), ("notDEG", GREY, 281), ("Up", PINK, 299.6)):
        circle(leg_x + 9, yy, 16, rgba(col, 0.42))
        text(leg_x + 24.5, yy, name, 10, anchor="left")

volcano((184,103,478,441), [-4.32,6.45], [-0.36,7.74], [-4,-2,0,2,4,6], [0,2,4,6], "", A_DOWN, A_DOWN_MASS, A_NOT, A_NOT_MASS, A_UP, A_UP_MASS, 7, 1.5, 331.6, 150, 496)
volcano((653,103,947,441), [-5.55,7.93], [-0.2,4.44], [-5,-2.5,0,2.5,5,7.5], [0,1,2,3,4], ".1f", B_DOWN, B_DOWN_MASS, B_NOT, B_NOT_MASS, B_UP, B_UP_MASS, 7.5, 1.05, 801.6, 618.6, 965.6)
volcano((1133,103,1427,441), [-6.35,6.34], [-0.25,5.44], [-6,-3,0,3,6], [0,1,2,3,4,5], "", C_DOWN, C_DOWN_MASS, C_NOT, C_NOT_MASS, C_UP, C_UP_MASS, 7.5, 1.4, 1281, 1097, 1445)

# ---------------------------------------------------------------- venn panel
circle(1708, 220.5, 237, "rgba(102,194,165,0.5)", "#66C2A5", 1.5)
circle(1824.5, 220.5, 237, "rgba(252,141,98,0.5)", "#FC8D62", 1.5)
circle(1766.5, 321.7, 237, "rgba(141,160,203,0.5)", "#8DA0CB", 1.5)
text(1611, 104, VENN_SETS[0], 27, color="#A8DCCB")
text(1950, 104, VENN_SETS[1], 27, color="#FDBBA3")
text(1783, 483, VENN_SETS[2], 27, color="#8497C6")
venn_xy = [(1656,197.7),(1766.5,167.7),(1877,197.7),(1766.5,261.7),(1685,302),(1848.6,302),(1766.5,390)]
for c, (vx, vy) in zip(VENN_COUNTS, venn_xy):
    text(vx, vy, "<b>%s</b>" % c, 21, family="Liberation Serif, DejaVu Serif")

# ---------------------------------------------------------------- bubble panels
GRAD = [[0, "#009E73"], [0.16, "#3F9470"], [0.44, "#7F8A5E"], [0.72, "#B9683F"], [1, "#E5352B"]]
def bubble(box, xr, yr, xticks, fmt, terms, ratio, logp, diam, cmin, cmax, cticks, cfmt, cbar_left, cbar_top, cbar_h):
    xa, ya = make_axes(box, xr, yr,
                       dict(tickvals=xticks, tickformat=fmt, ticklabelstandoff=-7, tickfont=dict(size=19, color=TICK, family=SANS)),
                       dict(type="category", categoryorder="array", categoryarray=terms, tickfont=dict(size=19.5, color="black", family=SANS)))
    fig.add_trace(go.Scatter(x=ratio, y=terms, mode="markers", xaxis=xa, yaxis=ya, showlegend=False, hoverinfo="skip",
                             marker=dict(size=diam, color=logp, colorscale=GRAD, cmin=cmin, cmax=cmax, opacity=1, line=dict(width=0),
                                         colorbar=dict(x=px(cbar_left), xanchor="left", y=py(cbar_top), yanchor="top", lenmode="pixels", len=cbar_h,
                                                       thicknessmode="pixels", thickness=28, xpad=0, ypad=0, outlinewidth=0,
                                                       tickvals=cticks, tickformat=cfmt, ticks="inside", ticklen=5, tickcolor="rgba(255,255,255,0.7)", tickwidth=1,
                                                       tickfont=dict(size=15, color="#222222", family=SANS)))))

bubble((633.3,633.3,842.5,1008), [-0.0086,0.1993], [-0.58,5.6], [0,0.05,0.10,0.15], ".2f", E_TERMS, E_RATIO, E_LOGP, E_DIAM, 1.42, 5.02, [2,3,4,5], "", 870, 898.3, 140)
bubble((1590.3,633.3,1831.3,1008), [-0.0023,0.0496], [-0.58,4.61], [0,0.01,0.02,0.03,0.04], ".2f", F_TERMS, F_RATIO, F_LOGP, F_DIAM, 6.92, 7.88, [7.0,7.2,7.4,7.6,7.8], ".1f", 1858.6, 894, 140.3)

text(633, 612.7, "HALLMARK", 27, anchor="left")
text(1590, 614.3, "GO", 20.7, anchor="left")
text(738, 1046.7, "Gene Ratio", 17.8)
text(1710.8, 1059.3, "Gene Ratio", 17.8)
text(920, 617.7, "Gene counts", 17.8)
text(1909.6, 617.7, "Gene counts", 17.8)
for lab, yy, d in (("10", 651, 35), ("12", 697.7, 38), ("14", 748.7, 41.5), ("16", 802.3, 44)):
    circle(898, yy, d, "black"); text(942.6, yy, lab, 15)
for lab, yy, d in (("10", 652.7, 30), ("11", 694.7, 38.5), ("12", 744.3, 41), ("13", 798, 43.5)):
    circle(1886.6, yy, d, "black"); text(1931, yy, lab, 15)
text(864, 878.3, "\u2612log<sub>10</sub> (P Value)", 18.5, anchor="left")
text(1852, 872.7, "\u2612log<sub>10</sub> (P Value)", 18.5, anchor="left")

# ---------------------------------------------------------------- sankey panel
GENE_TOPS = [1151.6,1191,1243,1276,1329,1375,1428,1481,1533,1586,1639,1692,1744,1771,1796.6,1829.5]
TERM_TOPS = [1259,1364.5,1463.5,1563,1662]
S_X0, S_X1, S_Y0, S_Y1 = 136, 820, 1151.6, 1836
UNIT, THICK = 6.5, 158
term_lists = [TERM1_GENES, TERM2_GENES, TERM3_GENES, TERM4_GENES, TERM5_GENES]
gene_counts = [sum(g in tl for tl in term_lists) for g in SANKEY_GENES]
term_counts = [len(tl) for tl in term_lists]
src, tgt, val, lcol = [], [], [], []
for t, tl in enumerate(term_lists):
    for g in tl:
        gi = SANKEY_GENES.index(g)
        src.append(gi); tgt.append(len(SANKEY_GENES)+t); val.append(1)
        lcol.append(rgba(SANKEY_GENE_COLORS[gi], 0.5))
sh, sw = S_Y1 - S_Y0, S_X1 - S_X0
# node x / y give the node centres as a fraction of the sankey domain
node_y = [(top + c*UNIT/2 - S_Y0)/sh for top, c in zip(GENE_TOPS + TERM_TOPS, gene_counts + term_counts)]
node_x = [THICK/2/sw]*len(SANKEY_GENES) + [1 - THICK/2/sw]*len(SANKEY_TERMS)
fig.add_trace(go.Sankey(arrangement="fixed", domain=dict(x=[px(S_X0), px(S_X1)], y=[py(S_Y1), py(S_Y0)]), hoverinfo="skip",
                        node=dict(label=[""]*(len(SANKEY_GENES)+5), pad=20, thickness=THICK, line=dict(width=0),
                                  color=SANKEY_GENE_COLORS+SANKEY_TERM_COLORS, hoverinfo="skip", x=node_x, y=node_y),
                        link=dict(source=src, target=tgt, value=val, color=lcol, hoverinfo="skip")))
for g, top, c in zip(SANKEY_GENES, GENE_TOPS, gene_counts):
    text(215, top + c*UNIT/2 - 0.5, g, 21)
for t, top, c in zip(SANKEY_TERMS, TERM_TOPS, term_counts):
    text(741, top + c*UNIT/2, t, 21.1)

# ---------------------------------------------------------------- panel h facets
COLS = [1166, 1389, 1601.4, 1824.3]
ROWS = [1184, 1346, 1508.3, 1670]
FW, FH = 172.2, 125.4
SYM = {"c": "circle", "o": "triangle-up", "u": "square"}
tickf = dict(size=17.5, color=TICK, family=SANS)
for idx, ((gene, nv, mv, bn, bm), (yr, yt, yf)) in enumerate(zip(FACETS, FACET_AXES)):
    col, row = idx % 4, idx // 4
    l, t = COLS[col], ROWS[row]
    xa, ya = make_axes((l, t, l+FW, t+FH), [0.4, 2.6],  yr,
                       dict(tickvals=[1, 2], showticklabels=False, ticks="outside" if row == 3 else "", ticklen=4),
                       dict(tickvals=yt, tickformat=yf, tickfont=tickf, ticklen=3))
    rect(l, t-29, l+FW, t-1.7, fill="#D9D9D9", layer="below")
    text(l+FW/2, t-15, gene, 18.5, color="#1A1A1A")
    fig.add_trace(go.Box(x=[1, 2], lowerfence=[bn[0], bm[0]], q1=[bn[1], bm[1]], median=[bn[2], bm[2]], q3=[bn[3], bm[3]], upperfence=[bn[4], bm[4]],
                         width=0.75, whiskerwidth=0, boxpoints=False, line=dict(color="#111111", width=1.6), fillcolor="rgba(0,0,0,0)",
                         xaxis=xa, yaxis=ya, showlegend=False, hoverinfo="skip"))
    xs = [1]*len(nv) + [2]*len(mv)
    ys = list(nv) + list(mv)
    syms = [SYM[s] for s in SAMPLE_TYPE]*2
    cols = [GREEN]*len(nv) + [ORANGE]*len(mv)
    fig.add_trace(go.Scatter(x=xs, y=ys, mode="markers", marker=dict(symbol=syms, color=cols, size=10.5, line=dict(width=0)),
                             xaxis=xa, yaxis=ya, showlegend=False, hoverinfo="skip"))
    lx, ly = [], []
    for a, b in zip(nv, mv):
        lx += [1, 2, None]; ly += [a, b, None]
    fig.add_trace(go.Scatter(x=lx, y=ly, mode="lines", line=dict(color="#BDBDBD", width=1.1),
                             xaxis=xa, yaxis=ya, showlegend=False, hoverinfo="skip"))
    # inner half of each box is dashed: white gaps laid along its own outline
    dx, dy = [], []
    for c, b, sgn in ((1, bn, 1), (2, bm, -1)):
        e = c + sgn*0.375
        dx += [c, e, e, c, None, c, e, None]
        dy += [b[1], b[1], b[3], b[3], None, b[2], b[2], None]
    fig.add_trace(go.Scatter(x=dx, y=dy, mode="lines", line=dict(color="white", width=1.8, dash="4px,5px"),
                             xaxis=xa, yaxis=ya, showlegend=False, hoverinfo="skip"))
    shapes.append(dict(type="line", xref=xa, yref=ya + " domain", x0=1, x1=2, y0=1-19.3/FH, y1=1-19.3/FH, line=dict(color="#808080", width=1.5)))
    annos.append(dict(x=1.5, y=py(t+17.5), xref=xa, yref="paper", text="***", showarrow=False, xanchor="center", yanchor="middle",
                      font=dict(size=31, color="black", family=SANS)))
text(1106.7, 1479, "Normalized log2(TPM+1)", 27, angle=-90)

# legend row of panel h
LEG_Y = 1843.5
KEYS = [1224, 1354, 1465, 1660, 1786]
for kx in KEYS:
    rect(kx, LEG_Y-22.5, kx+45, LEG_Y+22.5, fill="#F2F2F2")
circle(1246.5, LEG_Y, 22, "black")
shapes.append(dict(type="path", xref="paper", yref="paper",
                   path="M %f %f L %f %f L %f %f Z" % (px(1376.5), py(LEG_Y-16), px(1361), py(LEG_Y+8.5), px(1392), py(LEG_Y+8.5)),
                   fillcolor="black", line=dict(width=0)))
rect(1476.5, LEG_Y-11, 1498.5, LEG_Y+11, fill="black")
circle(1682.5, LEG_Y, 22, GREEN)
circle(1808.5, LEG_Y, 22, ORANGE)
for lab, lx in (("type",1195),("cervical",1311),("ovary",1431.6),("uterus",1546.6),("group",1625),("Normal",1745.5),("Mesonephric.like",1913)):
    text(lx, LEG_Y, lab, 19)

# ---------------------------------------------------------------- panel letters
LETTER = "Open Sans, DejaVu Sans"
for s, lx, base in (("a",11,68),("b",565,68),("c",1053,68),("d",1512,68),("e",9,641.7),("f",1056,641.7),("g",8,1151),("h",1046,1150)):
    text(lx, base - 28, s, 72, anchor="left", family=LETTER)

fig.update_layout(width=W, height=H, margin=dict(l=0, r=0, t=0, b=0, pad=0, autoexpand=False), paper_bgcolor="white", plot_bgcolor="white",
                  font=dict(family=SANS), showlegend=False, shapes=shapes, annotations=annos, **axes)
fig.write_html("out.html", config=dict(displayModeBar=False), post_script="document.body.style.margin='0';")
